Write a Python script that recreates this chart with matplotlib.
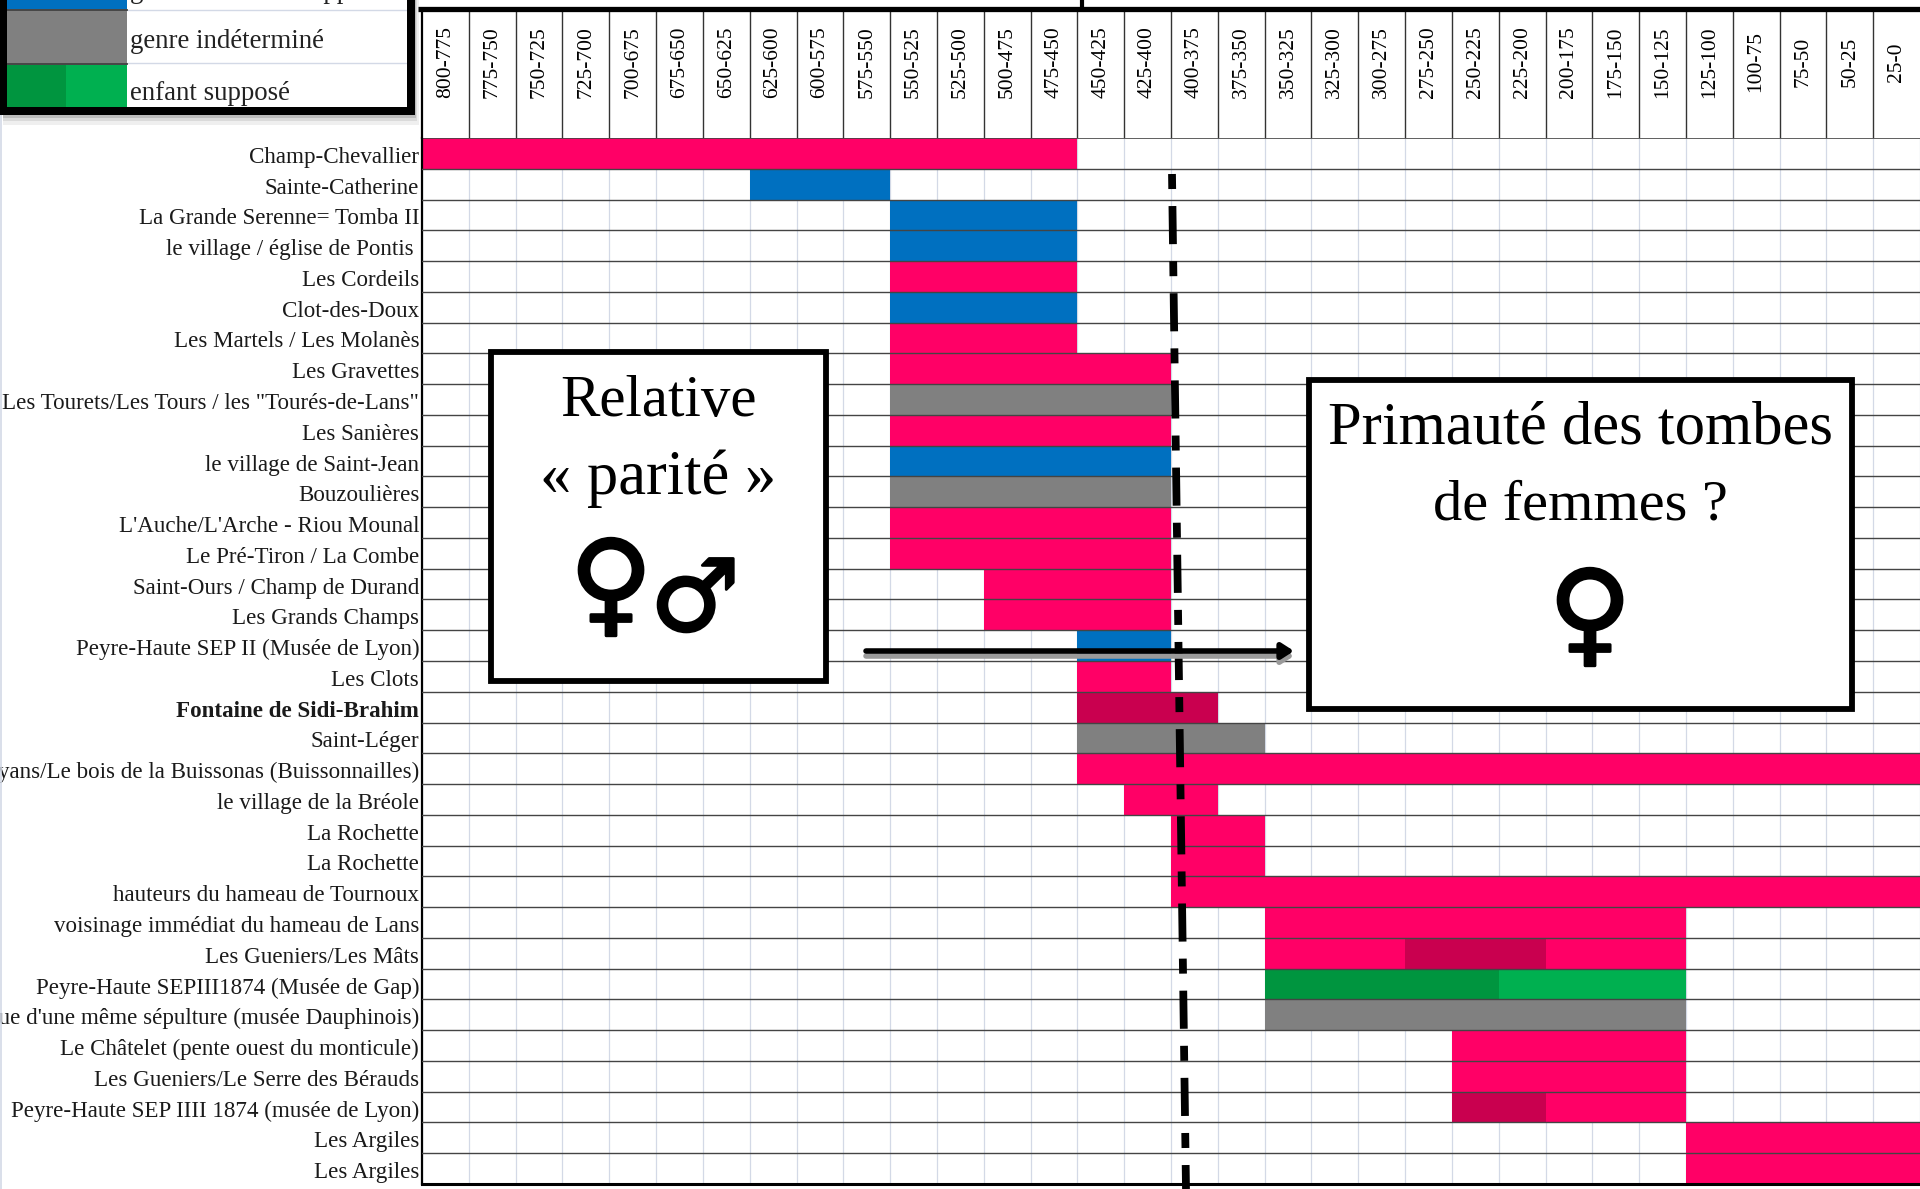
import matplotlib
matplotlib.use('Agg')
import matplotlib.pyplot as plt
import matplotlib.patheffects as pe
from matplotlib.patches import Rectangle
from matplotlib.transforms import ScaledTranslation

serif = 'Liberation Serif'

periods = ['800-775', '775-750', '750-725', '725-700', '700-675', '675-650', '650-625', '625-600',
           '600-575', '575-550', '550-525', '525-500', '500-475', '475-450', '450-425', '425-400',
           '400-375', '375-350', '350-325', '325-300', '300-275', '275-250', '250-225', '225-200',
           '200-175', '175-150', '150-125', '125-100', '100-75', '75-50', '50-25', '25-0']

sites = ['Champ-Chevallier', 'Sainte-Catherine', 'La Grande Serenne= Tomba II', 'le village / église de Pontis ',
         'Les Cordeils', 'Clot-des-Doux', 'Les Martels / Les Molanès', 'Les Gravettes',
         'Les Tourets/Les Tours / les "Tourés-de-Lans"', 'Les Sanières', 'le village de Saint-Jean', 'Bouzoulières',
         "L'Auche/L'Arche - Riou Mounal", 'Le Pré-Tiron / La Combe', 'Saint-Ours / Champ de Durand', 'Les Grands Champs',
         'Peyre-Haute SEP II (Musée de Lyon)', 'Les Clots', 'Fontaine de Sidi-Brahim', 'Saint-Léger',
         'Les Payans/Le bois de la Buissonas (Buissonnailles)', 'le village de la Bréole', 'La Rochette', 'La Rochette',
         'hauteurs du hameau de Tournoux', 'voisinage immédiat du hameau de Lans', 'Les Gueniers/Les Mâts',
         'Peyre-Haute SEPIII1874 (Musée de Gap)', "Issue d'une même sépulture (musée Dauphinois)",
         'Le Châtelet (pente ouest du monticule)', 'Les Gueniers/Le Serre des Bérauds',
         'Peyre-Haute SEP IIII 1874 (musée de Lyon)', 'Les Argiles', 'Les Argiles']

# start year, end year, colour key for every row
spans = [[(800, 450, 'f')], [(625, 550, 'm')], [(550, 450, 'm')], [(550, 450, 'm')],
         [(550, 450, 'f')], [(550, 450, 'm')], [(550, 450, 'f')], [(550, 400, 'f')],
         [(550, 400, 'u')], [(550, 400, 'f')], [(550, 400, 'm')], [(550, 400, 'u')],
         [(550, 400, 'f')], [(550, 400, 'f')], [(500, 400, 'f')], [(500, 400, 'f')],
         [(450, 400, 'm')], [(450, 400, 'f')], [(450, 375, 'd')], [(450, 350, 'u')],
         [(450, 0, 'f')], [(425, 375, 'f')], [(400, 350, 'f')], [(400, 350, 'f')],
         [(400, 0, 'f')], [(350, 125, 'f')], [(350, 275, 'f'), (275, 200, 'd'), (200, 125, 'f')],
         [(350, 225, 'g'), (225, 125, 'l')], [(350, 125, 'u')], [(250, 125, 'f')],
         [(250, 125, 'f')], [(250, 200, 'd'), (200, 125, 'f')], [(125, 0, 'f')], [(125, 0, 'f')]]

colors = {'f': '#ff0066', 'd': '#c9004f', 'm': '#0070c0', 'u': '#808080', 'g': '#00953f', 'l': '#00b050'}

fig = plt.figure(figsize=(19.2, 11.89), dpi=100)
W, H = 1920.0, 1189.0

# main grid
left, top, bottom = 422, 138, 1184
ax = fig.add_axes([left / W, 1 - bottom / H, (W - left) / W, (bottom - top) / H])
ax.set_xlim(800, 0)
ax.set_ylim(len(sites), 0)
for v in range(0, 801, 25):
    ax.axvline(v, color='#d3d9e6', lw=0.9, zorder=1)
for i, row in enumerate(spans):
    for a, b, c in row:
        ax.barh(i + 0.5, b - a, left=a, height=1, color=colors[c], zorder=2, lw=0)
for i in range(1, len(sites)):
    ax.axhline(i, color='#444444', lw=1.0, zorder=3)
ax.set_xticks([])
ax.set_yticks([i + 0.5 for i in range(len(sites))])
ax.set_yticklabels(sites, fontfamily=serif, fontsize=16.6, color='#1a1a1a')
ax.tick_params(axis='y', length=0, pad=2)
ax.get_yticklabels()[18].set_fontweight('bold')
down = ScaledTranslation(0, -1.5 / 100, fig.dpi_scale_trans)
for lab in ax.get_yticklabels():
    lab.set_transform(lab.get_transform() + down)
ax.spines['right'].set_visible(False)
ax.spines['left'].set_linewidth(1.6)
ax.spines['bottom'].set_linewidth(2.2)
ax.spines['top'].set_color('#444444')
ax.spines['top'].set_linewidth(1.2)

# header with periods
hax = fig.add_axes([left / W, 1 - top / H, (W - left) / W, (top - 10) / H])
hax.set_xlim(800, 0)
hax.set_ylim(0, 1)
hax.set_xticks([])
hax.set_yticks([])
for i, p in enumerate(periods):
    x = 800 - 25 * i
    if i > 0:
        hax.axvline(x, color='#333333', lw=1.0)
    hax.text(x - 12.5, 0.595, p, rotation=90, ha='center', va='center', fontfamily=serif,
             fontsize=15.5, color='black')
for s in ['right', 'bottom', 'top']:
    hax.spines[s].set_visible(False)
hax.spines['left'].set_linewidth(1.6)

# overlay in pixel coordinates for the drawn shapes
ov = fig.add_axes([0, 0, 1, 1], zorder=10)
ov.set_xlim(0, W)
ov.set_ylim(H, 0)
ov.axis('off')
ov.patch.set_alpha(0)

# top border
ov.plot([418, 1920], [8.5, 8.5], color='black', lw=3.8, solid_capstyle='butt')
ov.plot([1082, 1082], [0, 8], color='black', lw=3, solid_capstyle='butt')

# page edge on the left
ov.plot([1, 1], [115, 1189], color='#d3d9e6', lw=1.2)

# legend box
for grow, alpha in [(10, 0.10), (6, 0.15), (3, 0.25)]:
    ov.add_patch(Rectangle((3, 0), 412 + grow * 0.4, 115 + grow, fc='#666666', ec='none', alpha=alpha, zorder=1))
ov.add_patch(Rectangle((0, 0), 408, 108, fc='white', ec='none', zorder=2))
ov.add_patch(Rectangle((7, 0), 120, 9, fc='#0070c0', ec='none', zorder=3))
ov.add_patch(Rectangle((7, 11), 120, 52, fc='#808080', ec='none', zorder=3))
ov.add_patch(Rectangle((7, 65), 59, 43, fc='#00953f', ec='none', zorder=3))
ov.add_patch(Rectangle((66, 65), 61, 43, fc='#00b050', ec='none', zorder=3))
ov.plot([7, 127], [10, 10], color='#222222', lw=1.2, zorder=4)
ov.plot([7, 127], [64, 64], color='#222222', lw=1.2, zorder=4)
ov.plot([127, 407], [10, 10], color='#d3d9e6', lw=1, zorder=3)
ov.plot([127, 407], [63, 63], color='#d3d9e6', lw=1, zorder=3)
ov.add_patch(Rectangle((0, 0), 7, 115, fc='black', ec='none', zorder=5))
ov.add_patch(Rectangle((0, 107), 415, 8, fc='black', ec='none', zorder=5))
ov.add_patch(Rectangle((407, 0), 8, 115, fc='black', ec='none', zorder=5))
ov.text(130, 41, 'genre indéterminé', fontfamily=serif, fontsize=19.4, va='center', color='#222222', zorder=6)
ov.text(130, 94, 'enfant supposé', fontfamily=serif, fontsize=19.4, va='center', color='#222222', zorder=6)
ov.text(130, -9, 'genre masculin supposé', fontfamily=serif, fontsize=19.4, va='center', color='#222222', zorder=6)

# dash-dot divide
ov.plot([1172, 1186], [174, 1189], color='black', lw=5.6, zorder=5, dash_capstyle='butt',
        linestyle=(0, (1.93, 2.19, 4.9, 2.19)))

# arrow
ov.annotate('', xy=(1294, 656), xytext=(866, 656), zorder=5,
            arrowprops=dict(arrowstyle='-|>,head_width=0.45,head_length=0.7', color='#9a9a9a', lw=4, shrinkA=0, shrinkB=0))
ov.annotate('', xy=(1294, 651), xytext=(866, 651), zorder=6,
            arrowprops=dict(arrowstyle='-|>,head_width=0.45,head_length=0.7', color='black', lw=4, shrinkA=0, shrinkB=0))

# text boxes
ov.add_patch(Rectangle((491, 352), 335, 329, fc='white', ec='black', lw=4.2, zorder=7))
ov.add_patch(Rectangle((1309, 380), 543, 329, fc='white', ec='black', lw=4.2, zorder=7))
ov.text(658, 402, 'Relative', fontfamily=serif, fontsize=42.5, ha='center', va='center', color='black', zorder=8)
ov.text(658, 479, '« parité »', fontfamily=serif, fontsize=45, ha='center', va='center', color='black', zorder=8)
ov.text(1580, 429, 'Primauté des tombes', fontfamily=serif, fontsize=43.7, ha='center', va='center', color='black', zorder=8)
ov.text(1580, 505, 'de femmes ?', fontfamily=serif, fontsize=42, ha='center', va='center', color='black', zorder=8)

thick = [pe.withStroke(linewidth=2.0, foreground='black')]
ov.text(611, 590, '♀', fontfamily='DejaVu Sans', fontweight='bold', fontsize=82, ha='center', va='center', zorder=8, path_effects=thick)
ov.text(695, 603, '♂', fontfamily='DejaVu Sans', fontweight='bold', fontsize=72, ha='center', va='center', zorder=8, path_effects=thick)
ov.text(1590, 620, '♀', fontfamily='DejaVu Sans', fontweight='bold', fontsize=82, ha='center', va='center', zorder=8, path_effects=thick)

fig.savefig('out.png', dpi=100)
